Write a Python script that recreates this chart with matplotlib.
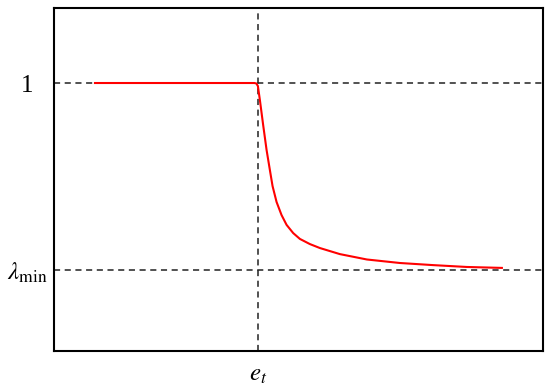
import matplotlib.pyplot as plt

plt.rcParams['mathtext.fontset'] = 'stix'
plt.rcParams['font.family'] = 'Liberation Serif'

# threshold and levels
e_t = 4.17
lam_min = 0.2
top_level = 1.0

# curve
x_vals = [0.84, 4.10, 4.141, 4.172, 4.213, 4.280, 4.350, 4.417, 4.472, 4.554,
          4.656, 4.759, 4.894, 5.031, 5.235, 5.440, 5.849, 6.401, 7.076,
          7.751, 8.446, 9.162]
y_vals = [1.0, 1.0, 0.998, 0.987, 0.927, 0.820, 0.713, 0.628, 0.559, 0.491,
          0.435, 0.393, 0.358, 0.333, 0.311, 0.294, 0.268, 0.245, 0.230,
          0.221, 0.213, 0.209]

fig = plt.figure(figsize=(5.5, 3.91), dpi=100)
ax = fig.add_axes([0.098, 0.102, 0.889, 0.877])

ax.axhline(top_level, color='#222222', ls=(0, (4, 3)), lw=1.1)
ax.axhline(lam_min, color='#222222', ls=(0, (4, 3)), lw=1.1)
ax.axvline(e_t, color='#222222', ls=(0, (4, 3)), lw=1.1)

ax.plot(x_vals, y_vals, color='red', lw=1.5)

ax.set_xlim(0, 10)
ax.set_ylim(-0.147, 1.32)

ax.set_xticks([e_t])
ax.set_xticklabels(['$e_t$'], fontsize=18)
ax.set_yticks([lam_min, top_level])
ax.set_yticklabels([r'$\lambda_{\min}$', '1'], fontsize=18)
for lab in ax.get_yticklabels():
    lab.set_ha('center')
ax.tick_params(axis='y', length=0, pad=19)
ax.tick_params(axis='x', length=0, pad=9)

for s in ax.spines.values():
    s.set_linewidth(1.5)

fig.savefig('out.png', dpi=100)
